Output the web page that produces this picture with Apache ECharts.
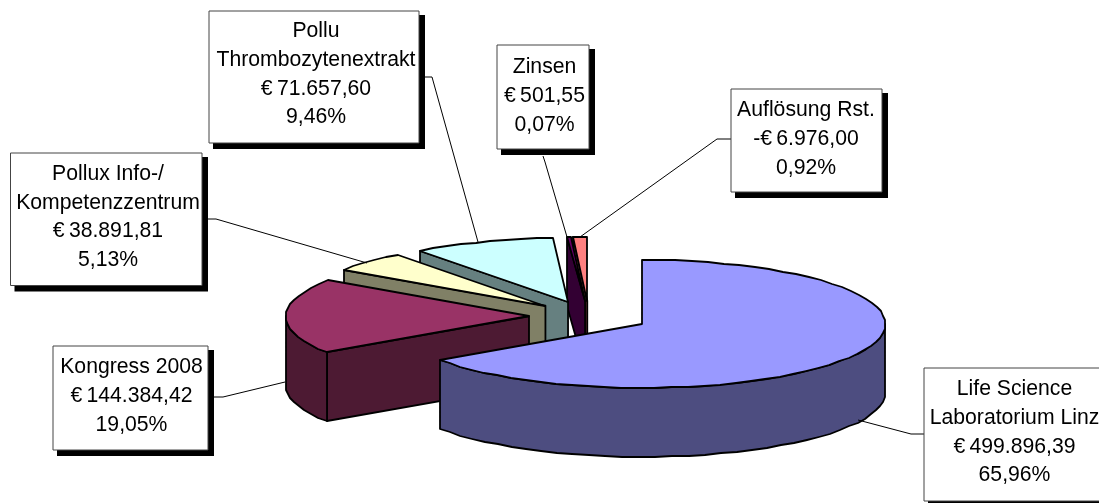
<!DOCTYPE html>
<html><head><meta charset="utf-8">
<style>html,body{margin:0;padding:0;background:#fff}#c{width:1099px;height:503px}</style>
<script src="https://cdn.jsdelivr.net/npm/echarts@6/dist/echarts.min.js"></script>
</head><body><div id="c"></div>
<script>
const categories = ["Life Science\nLaboratorium Linz","Kongress 2008","Pollux Info-/\nKompetenzzentrum","Pollu\nThrombozytenextrakt","Zinsen","Auflösung Rst."];
const amounts = [499896.39,144384.42,38891.81,71657.60,501.55,6976.00];
const amountLabels = ["€\u2009499.896,39","€\u2009144.384,42","€\u200938.891,81","€\u200971.657,60","€\u2009501,55","-€\u20096.976,00"];
const percentLabels = ["65,96%","19,05%","5,13%","9,46%","0,07%","0,92%"];

const topColors = ["#9999FF","#993366","#FFFFCC","#CCFFFF","#660066","#FF8080"];
const wallColors = ["#4D4D80","#4D1A33","#808066","#668080","#330033","#804040"];
// layout: box [left, top, right, bottom], text centre [x, y], leader points
const layout = [
  {box:[924,368,1110,501], tc:[1014.5,432.5], line:[[924,434],[911,434],[858,420]]},
  {box:[53,346,208,450], tc:[131.5,396], line:[[214,397],[223,397],[285,382]]},
  {box:[10.5,153,202,285.5], tc:[108,217], line:[[208,219],[216,219],[367,263]]},
  {box:[209,11,419,143], tc:[316,74.5], line:[[425,77],[432,77],[478,242]]},
  {box:[497,45,589,149], tc:[544.5,96], line:[[543,156],[545,162],[567,237]]},
  {box:[731,89,882,192], tc:[806,139], line:[[731,139],[717,139],[580,237]]}
];
const FONT = '21.2px "Liberation Sans", Arial, sans-serif';
const LINE_H = 28.7;
const CX = 589, CY = 316.5, RX = 243.5, RY = 64, DEPTH = 69, EX = 60, EY = 15.7;
const MIN_SLICE_DEG = 0.9, STEP = 4;

const total = amounts.reduce((a,b)=>a+b,0);
let cum = 0;
const rows = amounts.map((v,i)=>{const s=cum; cum+=v; return [v,s,cum,i];});
const toAngle = v => echarts.number.linearMap(v,[0,total],[0,2*Math.PI]);

function renderSlice(params, api){
  const s0 = api.value(1), s1 = api.value(2), idx = api.value(3);
  let a0 = toAngle(s0);
  const a1 = toAngle(s1);
  const minA = MIN_SLICE_DEG*Math.PI/180;
  if (a1-a0 < minA) a0 = a1-minA;
  const mid = (a0+a1)/2;
  const ax = CX+EX*Math.sin(mid), ay = CY-EY*Math.cos(mid);
  const pt = (a,d) => [Math.round(ax+RX*Math.sin(a)), Math.round(ay-RY*Math.cos(a)+d)];
  const arc = (b0,b1,d) => {
    const n = Math.max(1,Math.ceil((b1-b0)/(STEP*Math.PI/180))), out=[];
    for(let k=0;k<=n;k++) out.push(pt(b0+(b1-b0)*k/n,d));
    return out;
  };
  const order = idx===0 ? 100 : (amounts.length-idx)*10;
  const style = c => ({fill:c,stroke:"#000",lineWidth:1.8,lineJoin:"round"});
  const poly = (points,c,o) => ({type:"polygon",shape:{points},style:style(c),z2:order+o,silent:true});
  const children = [];
  [[a0,1],[a1,-1]].forEach(([a,side])=>{
    if (side*Math.sin(a) < -1e-6) {
      const r=pt(a,0);
      children.push(poly([[ax,ay],r,[r[0],r[1]+DEPTH],[ax,ay+DEPTH]],wallColors[idx],side>0?1:2));
    }
  });
  const v0 = Math.max(a0,Math.PI/2), v1 = Math.min(a1,1.5*Math.PI);
  if (v1>v0) {
    const t = arc(v0,v1,0), b = arc(v0,v1,DEPTH).reverse();
    children.push(poly(t.concat(b),wallColors[idx],3));
  }
  children.push(poly([[Math.round(ax),Math.round(ay)]].concat(arc(a0,a1,0)),topColors[idx],4));
  return {type:"group",children};
}

const graphics = [];
layout.forEach((l,i)=>{
  const [x0,y0,x1,y1] = l.box;
  graphics.push({type:"polyline",z:20,silent:true,shape:{points:l.line},style:{fill:null,stroke:"#000",lineWidth:1}});
  graphics.push({type:"rect",z:21,silent:true,shape:{x:x0+4,y:y0+4,width:x1-x0+2,height:y1-y0+2},style:{fill:"#000"}});
  graphics.push({type:"rect",z:22,silent:true,shape:{x:x0,y:y0,width:x1-x0,height:y1-y0},style:{fill:"#fff",stroke:"#444",lineWidth:1}});
  graphics.push({type:"text",z:23,silent:true,style:{
    text:[categories[i],amountLabels[i],percentLabels[i]].join("\n"),
    x:l.tc[0],y:l.tc[1],align:"center",verticalAlign:"middle",
    font:FONT,lineHeight:LINE_H,fill:"#000"}});
});

const chart = echarts.init(document.getElementById("c"),null,{renderer:"canvas"});
chart.setOption({
  animation:false,
  backgroundColor:"#fff",
  graphic:{elements:graphics},
  series:[{type:"custom",coordinateSystem:"none",renderItem:renderSlice,data:rows,z:2,silent:true}]
});
</script></body></html>
